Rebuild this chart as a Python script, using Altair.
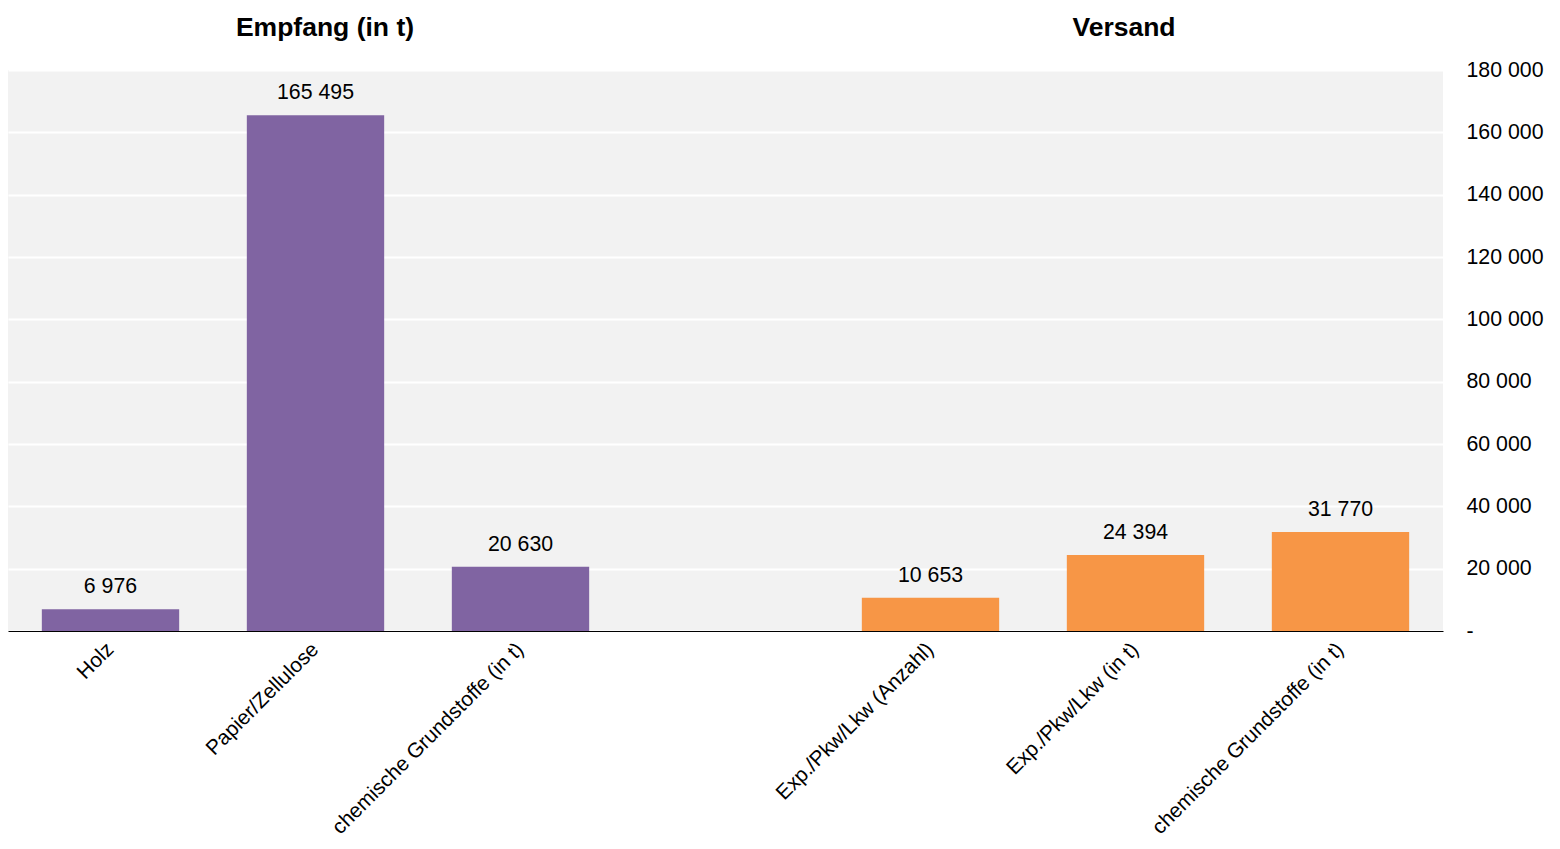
import altair as alt
import pandas as pd

ids = ["0|Holz", "1|Papier/Zellulose", "2|chemische Grundstoffe (in t)", "3|",
       "4|Exp./Pkw/Lkw (Anzahl)", "5|Exp./Pkw/Lkw (in t)", "6|chemische Grundstoffe (in t)"]
bar_ids = [ids[0], ids[1], ids[2], ids[4], ids[5], ids[6]]
values = [6976, 165495, 20630, 10653, 24394, 31770]
groups = ["Empfang", "Empfang", "Empfang", "Versand", "Versand", "Versand"]
titles = ["Empfang (in t)", "Versand"]
title_px = [317, 1116]
y_ticks = [0, 20000, 40000, 60000, 80000, 100000, 120000, 140000, 160000, 180000]

df = pd.DataFrame({"id": bar_ids, "value": values, "group": groups})
tdf = pd.DataFrame({"t": titles, "px": title_px})

FONT = "Liberation Sans"
FS = 21.3

x = alt.X("id:N", scale=alt.Scale(domain=ids, paddingInner=0.33, paddingOuter=0.165),
          axis=alt.Axis(title=None, labelExpr="split(datum.label, '|')[1]", labelAngle=-45,
                        labelAlign="right", labelBaseline="middle", labelPadding=15,
                        ticks=False, domainColor="black", domainWidth=1,
                        labelFontSize=20.8, labelColor="black", labelFont=FONT, labelLimit=500))
y = alt.Y("value:Q", scale=alt.Scale(domain=[0, 180000], nice=False),
          axis=alt.Axis(title=None, orient="right", values=y_ticks, ticks=False, domain=False,
                        gridColor="white", gridWidth=2, labelPadding=23, labelAlign="left",
                        labelFontSize=FS, labelColor="black", labelFont=FONT,
                        labelExpr="datum.value == 0 ? '-' : replace(format(datum.value, ','), ',', ' ')"))

base = alt.Chart(df)
bars = base.mark_bar().encode(
    x=x, y=y,
    color=alt.Color("group:N", scale=alt.Scale(domain=["Empfang", "Versand"], range=["#8064a2", "#f79646"]), legend=None),
)
labels = base.mark_text(baseline="bottom", dy=-12, fontSize=FS, font=FONT, color="black").encode(
    x=alt.X("id:N"), y=alt.Y("value:Q"),
    text=alt.Text("lbl:N"),
).transform_calculate(lbl="replace(format(datum.value, ','), ',', ' ')")

heads = alt.Chart(tdf).mark_text(fontSize=26.5, fontWeight="bold", font=FONT, color="black",
                                 baseline="middle", align="center").encode(
    x=alt.X("px:Q", scale=None), y=alt.value(-42), text="t:N")

chart = alt.layer(bars, labels, heads).properties(
    width=1435, height=561,
    autosize=alt.AutoSizeParams(type="none"),
    padding={"left": 0, "top": 62, "right": 105, "bottom": 210},
).configure_view(fill="#f2f2f2", stroke=None)

chart.save("out.html", embed_options={"renderer": "svg", "actions": False})
